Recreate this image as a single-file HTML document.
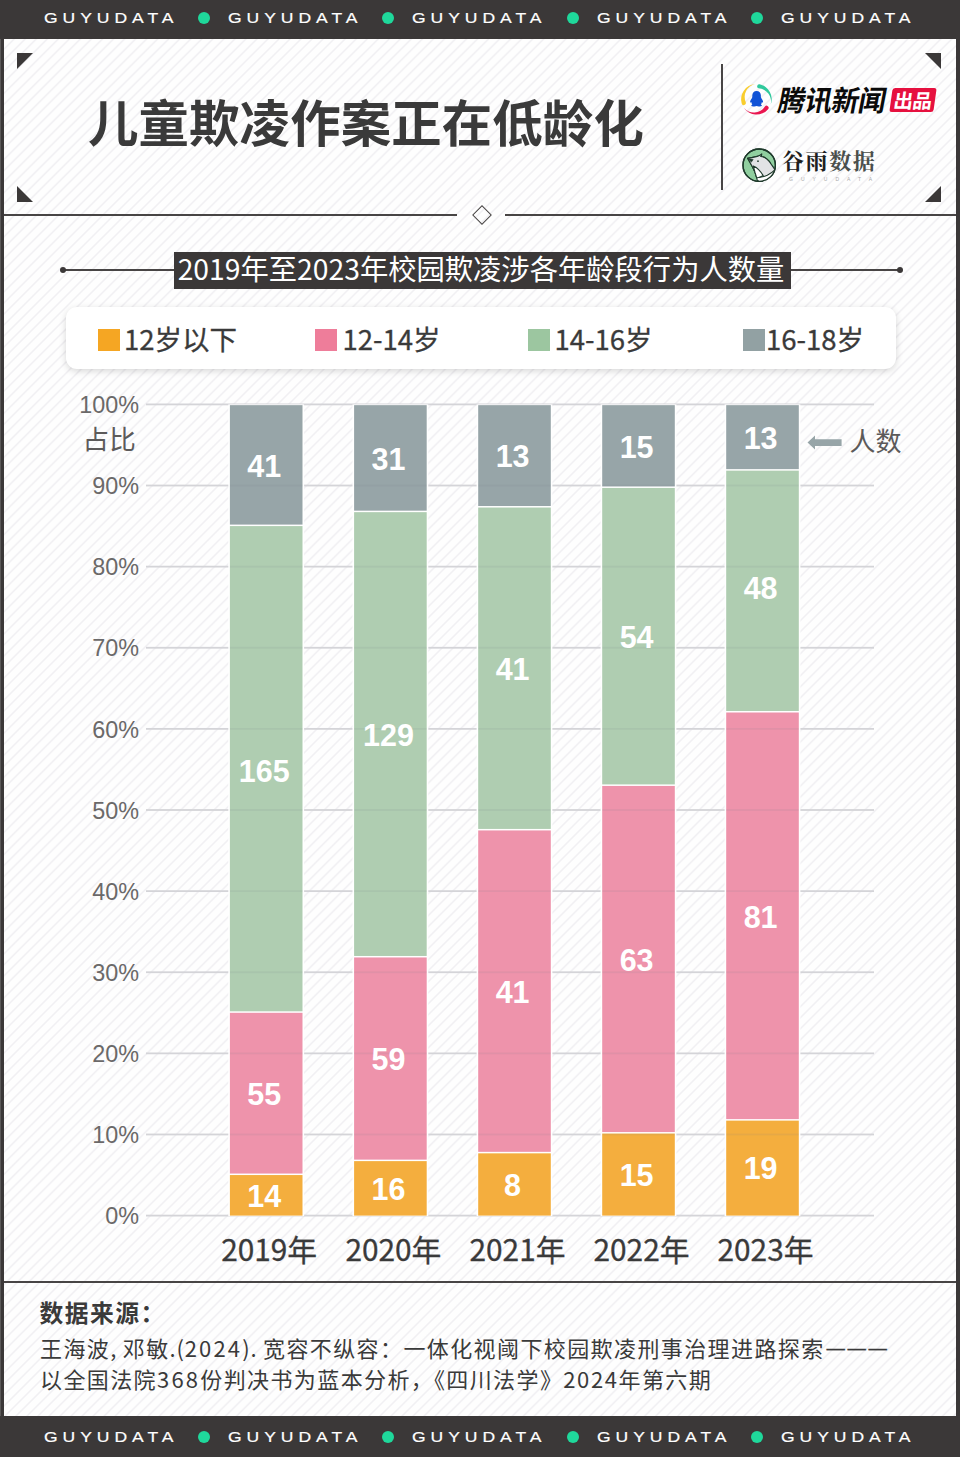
<!DOCTYPE html>
<html lang="zh-CN">
<head>
<meta charset="utf-8">
<title>儿童欺凌作案正在低龄化</title>
<style>
html,body{margin:0;padding:0;background:#fff;}
body{width:960px;height:1457px;overflow:hidden;}
#page{position:relative;width:960px;height:1457px;overflow:hidden;
  font-family:"Liberation Sans","Noto Sans CJK SC",sans-serif;color:#3a3a3a;
  background-color:#fefefe;
  background-image:repeating-linear-gradient(135deg,#fefefe 0,#fefefe 5.0px,#f1f0f3 6.2px,#f1f0f3 6.6px,#fefefe 7.8px);}
#page *{box-sizing:border-box;}
.abs{position:absolute;}
.band{position:absolute;left:0;width:960px;background:#3b3838;}
.gy{position:absolute;color:#fff;font-family:"Liberation Sans",sans-serif;font-size:15.5px;
  letter-spacing:4.4px;-webkit-text-stroke:0.2px #fff;transform:scaleX(1.13);transform-origin:0 50%;line-height:20px;white-space:nowrap;font-weight:400;}
.dot{position:absolute;width:12px;height:12px;border-radius:50%;background:#1fd89b;}
.hline{position:absolute;height:2px;background:#484545;}
.tri{position:absolute;width:0;height:0;}
.cjk{font-family:"Liberation Sans","Noto Sans CJK SC",sans-serif;}
.title{position:absolute;left:88px;top:85px;font-size:50.4px;letter-spacing:0.15px;line-height:72px;font-weight:700;
  color:#3a3a3a;white-space:nowrap;font-family:"Noto Sans CJK SC","Liberation Sans",sans-serif;}
.sub{position:absolute;left:174px;top:252px;width:617px;height:36.5px;background:#3b3838;color:#fff;
  font-family:"Noto Sans CJK SC","Liberation Sans",sans-serif;font-size:28.3px;line-height:31.5px;
  text-align:center;padding-right:3px;white-space:nowrap;font-weight:400;}
.legend{position:absolute;left:66px;top:307px;width:830px;height:62px;background:#fff;border-radius:11px;
  box-shadow:0 2px 7px rgba(0,0,0,0.16);}
.lg-sq{position:absolute;top:329px;width:22px;height:22px;}
.lg-tx{position:absolute;top:318px;font-weight:400;-webkit-text-stroke:0.3px #3a3a3a;font-size:27.5px;line-height:40px;white-space:nowrap;color:#3a3a3a;
  font-family:"Noto Sans CJK SC","Liberation Sans",sans-serif;}
.ylab{position:absolute;width:100px;text-align:right;font-family:"Liberation Sans",sans-serif;font-size:23.4px;
  line-height:26px;color:#6b6969;white-space:nowrap;}
.grid{position:absolute;left:146px;width:728px;height:1.8px;background:#d4d4d8;}
.gov{position:absolute;width:73px;height:1.8px;background:rgba(120,125,135,0.16);}
.seg{position:absolute;border:solid #fff;border-width:1.2px 1.8px;}
.num{position:absolute;width:73px;text-align:center;color:#fff;font-family:"Liberation Sans",sans-serif;
  font-weight:700;font-size:30.5px;line-height:30px;white-space:nowrap;}
.xlab{position:absolute;width:140px;text-align:center;font-weight:400;-webkit-text-stroke:0.3px #3a3a3a;font-size:29.8px;line-height:40px;white-space:nowrap;color:#3a3a3a;
  font-family:"Noto Sans CJK SC","Liberation Sans",sans-serif;}
.src-h{position:absolute;left:39.5px;top:1294px;text-spacing-trim:space-all;font-size:23.8px;letter-spacing:1.45px;line-height:36px;font-weight:700;color:#3a3a3a;white-space:nowrap;
  font-family:"Noto Sans CJK SC","Liberation Sans",sans-serif;}
.src{position:absolute;left:40px;font-size:22px;letter-spacing:1.4px;line-height:32px;color:#3a3a3a;white-space:nowrap;text-spacing-trim:space-all;
  font-family:"Noto Sans CJK SC","Liberation Sans",sans-serif;}
.src .d{letter-spacing:2.2px;}
.src .d2{letter-spacing:1.6px;}
.src .p{letter-spacing:0.75px;}
.src .dash{font-family:"Liberation Sans",sans-serif;font-size:18.4px;letter-spacing:2.6px;position:relative;top:-2.5px;margin-left:1.8px;-webkit-text-stroke:0.3px #3a3a3a;}
</style>
</head>
<body>
<div id="page">
<div class="band" style="top:0;height:39px;"></div>
<div class="band" style="top:1416px;height:41px;"></div>
<div class="abs" style="left:0;top:0;width:4px;height:1457px;background:#3b3838;"></div>
<div class="abs" style="left:955.5px;top:0;width:4.5px;height:1457px;background:#3b3838;"></div>
<div class="abs" style="left:0;top:39px;width:1px;height:1377px;background:#5b5959;"></div>
<div class="gy" style="left:44.0px;top:8px;">GUYUDATA</div>
<div class="gy" style="left:228.2px;top:8px;">GUYUDATA</div>
<div class="gy" style="left:412.4px;top:8px;">GUYUDATA</div>
<div class="gy" style="left:596.6px;top:8px;">GUYUDATA</div>
<div class="gy" style="left:780.8px;top:8px;">GUYUDATA</div>
<div class="dot" style="left:198.2px;top:12px;"></div>
<div class="dot" style="left:382.4px;top:12px;"></div>
<div class="dot" style="left:566.6px;top:12px;"></div>
<div class="dot" style="left:750.8px;top:12px;"></div>
<div class="gy" style="left:44.0px;top:1427px;">GUYUDATA</div>
<div class="gy" style="left:228.2px;top:1427px;">GUYUDATA</div>
<div class="gy" style="left:412.4px;top:1427px;">GUYUDATA</div>
<div class="gy" style="left:596.6px;top:1427px;">GUYUDATA</div>
<div class="gy" style="left:780.8px;top:1427px;">GUYUDATA</div>
<div class="dot" style="left:198.2px;top:1431px;"></div>
<div class="dot" style="left:382.4px;top:1431px;"></div>
<div class="dot" style="left:566.6px;top:1431px;"></div>
<div class="dot" style="left:750.8px;top:1431px;"></div>
<div class="tri" style="left:16.5px;top:52.5px;border-top:16.5px solid #3b3838;border-right:16.5px solid transparent;"></div>
<div class="tri" style="left:925px;top:52.5px;border-top:16.5px solid #3b3838;border-left:16.5px solid transparent;"></div>
<div class="tri" style="left:16.5px;top:185.5px;border-bottom:16.5px solid #3b3838;border-right:16.5px solid transparent;"></div>
<div class="tri" style="left:925px;top:185.5px;border-bottom:16.5px solid #3b3838;border-left:16.5px solid transparent;"></div>
<div class="title">儿童欺凌作案正在低龄化</div>
<div class="abs" style="left:720.5px;top:64px;width:2px;height:126px;background:#484545;"></div>
<svg class="abs" style="left:736px;top:80px;" width="40" height="40" viewBox="736 80 40 40">
  <path d="M741.69 103.52 A15.3 15.3 0 0 1 755.07 84.06 A13.15 13.15 0 0 0 745.83 102.33 A2.15 2.15 0 0 1 741.69 103.52 Z" fill="#f9cd2c"/>
  <path d="M759.58 84.33 A15.3 15.3 0 0 1 770.68 104.78 A13.25 13.25 0 0 0 758.73 88.34 A2.05 2.05 0 0 1 759.58 84.33 Z" fill="#30c99c"/>
  <path d="M768.12 109.13 A15.3 15.3 0 0 1 743.72 107.86 A13.20 13.20 0 0 0 764.90 106.43 A2.10 2.10 0 0 1 768.12 109.13 Z" fill="#ea1650"/>
  <path d="M756.6 91 c-2.6 0 -4.3 2 -4.3 4.6 c0 1 0.1 1.6 -0.3 2.4 c-0.9 1.4 -1.9 2.8 -1.9 4 c0 0.7 0.5 0.7 1.2 0 c0 1 0.4 1.8 1 2.4 c-0.6 0.3 -1 0.7 -1 1.1 c0 0.8 1.6 1 3 1 c1 0 1.8 -0.2 2.3 -0.5 c0.5 0.3 1.3 0.5 2.3 0.5 c1.4 0 3 -0.2 3 -1 c0 -0.4 -0.4 -0.8 -1 -1.1 c0.6 -0.6 1 -1.4 1 -2.4 c0.7 0.7 1.2 0.7 1.2 0 c0 -1.2 -1 -2.6 -1.9 -4 c-0.4 -0.8 -0.3 -1.4 -0.3 -2.4 c0 -2.6 -1.7 -4.6 -4.3 -4.6 z" fill="#1153d6"/>
</svg>
<div class="abs" style="left:775px;top:79px;font-family:'Noto Sans CJK SC','Liberation Sans',sans-serif;font-weight:700;font-size:28.6px;line-height:40px;color:#0a0a0a;white-space:nowrap;transform:skewX(-11deg) scaleX(0.955);transform-origin:0 100%;letter-spacing:-0.5px;">腾讯新闻</div>
<div class="abs" style="left:890.5px;top:88px;width:44px;height:24px;background:#e6113f;border-radius:2.5px;transform:skewX(-8deg);"></div>
<div class="abs" style="left:890.5px;top:88px;width:44px;height:24px;font-family:'Noto Sans CJK SC','Liberation Sans',sans-serif;font-weight:700;font-size:19.5px;line-height:23px;color:#fff;text-align:center;white-space:nowrap;letter-spacing:-0.5px;transform:skewX(-8deg);">出品</div>
<svg class="abs" style="left:738px;top:144px;" width="44" height="44" viewBox="738 144 44 44">
  <defs><clipPath id="gc"><circle cx="759.2" cy="165.2" r="16.2"/></clipPath></defs>
  <circle cx="759.2" cy="165.2" r="16.2" fill="#90cf9f" stroke="#1f3a2c" stroke-width="1.3"/>
  <g clip-path="url(#gc)" stroke="#1f3a2c" stroke-width="1.1" stroke-linejoin="round" stroke-linecap="round">
    <path d="M747.6 158.2 C751 157.8 754.5 157.2 757.3 156.4 L760.7 156.5 C764.5 156.8 768.5 160 771 164 C772.8 166.6 774.3 168.6 775.3 170 L778 176 L766 186 L757.3 180.3 C756.6 177 755.8 174.5 755 172.4 C753.8 169.5 752.4 166.8 751.7 165.5 Z" fill="#ffffff"/>
    <path d="M747.6 158.2 C751 157.8 754.5 157.2 757.3 156.4 C759.3 155.8 760.8 155 761.8 153.9 C761.8 155 761.4 155.9 760.7 156.5 C764.5 156.8 768.5 160 771 164 C772.8 166.6 774.3 168.6 774.9 169.9 C772.8 172 770.3 173.7 767.3 175.2 C764.6 176.4 761.6 177.1 758.6 177.5 L756.6 177.7 C756.2 175.9 755.6 174.1 755 172.4 C753.8 169.5 752.4 166.8 751.7 165.5 Z" fill="#e2e3e5"/>
    <path d="M753.3 166 C755.3 166.8 757.2 168.1 758.6 169.7 C760.5 171.6 762 173.6 763.2 175.6 C761.7 176.4 760.2 177.1 758.6 177.5 L756.6 177.7 C756.2 175.9 755.6 174.1 755 172.4 C754.4 170.2 753.9 168.3 753.3 166 Z" fill="#ffffff"/>
    <path d="M747.6 158.2 L753.2 159.5 L751.4 162 Z" fill="#1f3a2c" stroke-width="0.6"/>
    <circle cx="758" cy="161.2" r="0.85" fill="#1f3a2c" stroke="none"/>
  </g>
  <circle cx="759.2" cy="165.2" r="16.2" fill="none" stroke="#1f3a2c" stroke-width="1.3"/>
</svg>
<div class="abs" style="left:782px;top:144px;font-family:'Noto Serif CJK SC','Liberation Serif',serif;font-weight:700;font-size:22px;line-height:32px;letter-spacing:1.6px;white-space:nowrap;color:#1f1f1f;">谷雨<span style="color:#4a4f4c;">数据</span></div>
<div class="abs" style="left:788.5px;top:176px;width:200px;font-family:'Liberation Sans',sans-serif;font-size:10px;line-height:12px;letter-spacing:16.0px;color:#a8a8a8;white-space:nowrap;transform:scale(0.5);transform-origin:0 0;">GUYUDATA</div>
<div class="hline" style="left:4px;top:214px;width:453px;"></div>
<div class="hline" style="left:505px;top:214px;width:451px;"></div>
<div class="abs" style="left:474.6px;top:208px;width:14px;height:14px;border:1.9px solid #484545;transform:rotate(45deg);"></div>
<div class="abs" style="left:63px;top:269.4px;width:837px;height:1.3px;background:#484545;"></div>
<div class="abs" style="left:60px;top:267px;width:6px;height:6px;border-radius:50%;background:#3b3838;"></div>
<div class="abs" style="left:897px;top:267px;width:6px;height:6px;border-radius:50%;background:#3b3838;"></div>
<div class="sub">2019年至2023年校园欺凌涉各年龄段行为人数量</div>
<div class="legend"></div>
<div class="lg-sq" style="left:98px;background:#f5a623;"></div><div class="lg-tx" style="left:124px;">12岁以下</div>
<div class="lg-sq" style="left:314.5px;background:#ee7d9a;"></div><div class="lg-tx" style="left:342.5px;">12-14岁</div>
<div class="lg-sq" style="left:527.5px;background:#9cc6a0;"></div><div class="lg-tx" style="left:554.5px;">14-16岁</div>
<div class="lg-sq" style="left:742.5px;background:#92a1a3;"></div><div class="lg-tx" style="left:766px;">16-18岁</div>
<div class="ylab" style="left:39px;top:392.0px;">100%</div>
<div class="ylab" style="left:39px;top:473.1px;">90%</div>
<div class="ylab" style="left:39px;top:554.2px;">80%</div>
<div class="ylab" style="left:39px;top:635.4px;">70%</div>
<div class="ylab" style="left:39px;top:716.5px;">60%</div>
<div class="ylab" style="left:39px;top:797.6px;">50%</div>
<div class="ylab" style="left:39px;top:878.7px;">40%</div>
<div class="ylab" style="left:39px;top:959.8px;">30%</div>
<div class="ylab" style="left:39px;top:1041.0px;">20%</div>
<div class="ylab" style="left:39px;top:1122.1px;">10%</div>
<div class="ylab" style="left:39px;top:1203.2px;">0%</div>
<div class="abs" style="left:82.6px;top:420px;font-size:26.6px;line-height:36px;color:#5c5a5a;white-space:nowrap;font-family:'Noto Sans CJK SC',sans-serif;">占比</div>
<svg class="abs" style="left:0;top:380px;" width="960" height="860" viewBox="0 380 960 860">
<rect x="146" y="403.50" width="728" height="1.8" fill="#d4d4d8"/>
<rect x="146" y="484.62" width="728" height="1.8" fill="#d4d4d8"/>
<rect x="146" y="565.74" width="728" height="1.8" fill="#d4d4d8"/>
<rect x="146" y="646.86" width="728" height="1.8" fill="#d4d4d8"/>
<rect x="146" y="727.98" width="728" height="1.8" fill="#d4d4d8"/>
<rect x="146" y="809.10" width="728" height="1.8" fill="#d4d4d8"/>
<rect x="146" y="890.22" width="728" height="1.8" fill="#d4d4d8"/>
<rect x="146" y="971.34" width="728" height="1.8" fill="#d4d4d8"/>
<rect x="146" y="1052.46" width="728" height="1.8" fill="#d4d4d8"/>
<rect x="146" y="1133.58" width="728" height="1.8" fill="#d4d4d8"/>
<rect x="146" y="1214.70" width="728" height="1.8" fill="#d4d4d8"/>
<rect x="228.30" y="404.40" width="75.80" height="811.80" fill="#ffffff"/>
<rect x="229.90" y="1175.05" width="72.60" height="40.55" fill="#f4ae3e"/>
<rect x="229.90" y="1012.81" width="72.60" height="160.74" fill="#ee93ab"/>
<rect x="229.90" y="526.09" width="72.60" height="485.22" fill="#afcdb1"/>
<rect x="229.90" y="405.15" width="72.60" height="119.44" fill="#97a5a8"/>
<rect x="229.90" y="1133.58" width="72.60" height="1.8" fill="#787d87" fill-opacity="0.11"/>
<rect x="229.90" y="1052.46" width="72.60" height="1.8" fill="#787d87" fill-opacity="0.11"/>
<rect x="229.90" y="971.34" width="72.60" height="1.8" fill="#787d87" fill-opacity="0.11"/>
<rect x="229.90" y="890.22" width="72.60" height="1.8" fill="#787d87" fill-opacity="0.11"/>
<rect x="229.90" y="809.10" width="72.60" height="1.8" fill="#787d87" fill-opacity="0.11"/>
<rect x="229.90" y="727.98" width="72.60" height="1.8" fill="#787d87" fill-opacity="0.11"/>
<rect x="229.90" y="646.86" width="72.60" height="1.8" fill="#787d87" fill-opacity="0.11"/>
<rect x="229.90" y="565.74" width="72.60" height="1.8" fill="#787d87" fill-opacity="0.11"/>
<rect x="229.90" y="484.62" width="72.60" height="1.8" fill="#787d87" fill-opacity="0.11"/>
<rect x="352.50" y="404.40" width="75.80" height="811.80" fill="#ffffff"/>
<rect x="354.10" y="1161.12" width="72.60" height="54.48" fill="#f4ae3e"/>
<rect x="354.10" y="957.46" width="72.60" height="202.16" fill="#ee93ab"/>
<rect x="354.10" y="512.16" width="72.60" height="443.80" fill="#afcdb1"/>
<rect x="354.10" y="405.15" width="72.60" height="105.51" fill="#97a5a8"/>
<rect x="354.10" y="1133.58" width="72.60" height="1.8" fill="#787d87" fill-opacity="0.11"/>
<rect x="354.10" y="1052.46" width="72.60" height="1.8" fill="#787d87" fill-opacity="0.11"/>
<rect x="354.10" y="971.34" width="72.60" height="1.8" fill="#787d87" fill-opacity="0.11"/>
<rect x="354.10" y="890.22" width="72.60" height="1.8" fill="#787d87" fill-opacity="0.11"/>
<rect x="354.10" y="809.10" width="72.60" height="1.8" fill="#787d87" fill-opacity="0.11"/>
<rect x="354.10" y="727.98" width="72.60" height="1.8" fill="#787d87" fill-opacity="0.11"/>
<rect x="354.10" y="646.86" width="72.60" height="1.8" fill="#787d87" fill-opacity="0.11"/>
<rect x="354.10" y="565.74" width="72.60" height="1.8" fill="#787d87" fill-opacity="0.11"/>
<rect x="354.10" y="484.62" width="72.60" height="1.8" fill="#787d87" fill-opacity="0.11"/>
<rect x="476.60" y="404.40" width="75.80" height="811.80" fill="#ffffff"/>
<rect x="478.20" y="1153.34" width="72.60" height="62.26" fill="#f4ae3e"/>
<rect x="478.20" y="830.44" width="72.60" height="321.40" fill="#ee93ab"/>
<rect x="478.20" y="507.53" width="72.60" height="321.40" fill="#afcdb1"/>
<rect x="478.20" y="405.15" width="72.60" height="100.88" fill="#97a5a8"/>
<rect x="478.20" y="1133.58" width="72.60" height="1.8" fill="#787d87" fill-opacity="0.11"/>
<rect x="478.20" y="1052.46" width="72.60" height="1.8" fill="#787d87" fill-opacity="0.11"/>
<rect x="478.20" y="971.34" width="72.60" height="1.8" fill="#787d87" fill-opacity="0.11"/>
<rect x="478.20" y="890.22" width="72.60" height="1.8" fill="#787d87" fill-opacity="0.11"/>
<rect x="478.20" y="809.10" width="72.60" height="1.8" fill="#787d87" fill-opacity="0.11"/>
<rect x="478.20" y="727.98" width="72.60" height="1.8" fill="#787d87" fill-opacity="0.11"/>
<rect x="478.20" y="646.86" width="72.60" height="1.8" fill="#787d87" fill-opacity="0.11"/>
<rect x="478.20" y="565.74" width="72.60" height="1.8" fill="#787d87" fill-opacity="0.11"/>
<rect x="478.20" y="484.62" width="72.60" height="1.8" fill="#787d87" fill-opacity="0.11"/>
<rect x="600.60" y="404.40" width="75.80" height="811.80" fill="#ffffff"/>
<rect x="602.20" y="1133.57" width="72.60" height="82.03" fill="#f4ae3e"/>
<rect x="602.20" y="785.92" width="72.60" height="346.16" fill="#ee93ab"/>
<rect x="602.20" y="487.93" width="72.60" height="296.49" fill="#afcdb1"/>
<rect x="602.20" y="405.15" width="72.60" height="81.28" fill="#97a5a8"/>
<rect x="602.20" y="1133.58" width="72.60" height="1.8" fill="#787d87" fill-opacity="0.11"/>
<rect x="602.20" y="1052.46" width="72.60" height="1.8" fill="#787d87" fill-opacity="0.11"/>
<rect x="602.20" y="971.34" width="72.60" height="1.8" fill="#787d87" fill-opacity="0.11"/>
<rect x="602.20" y="890.22" width="72.60" height="1.8" fill="#787d87" fill-opacity="0.11"/>
<rect x="602.20" y="809.10" width="72.60" height="1.8" fill="#787d87" fill-opacity="0.11"/>
<rect x="602.20" y="727.98" width="72.60" height="1.8" fill="#787d87" fill-opacity="0.11"/>
<rect x="602.20" y="646.86" width="72.60" height="1.8" fill="#787d87" fill-opacity="0.11"/>
<rect x="602.20" y="565.74" width="72.60" height="1.8" fill="#787d87" fill-opacity="0.11"/>
<rect x="602.20" y="484.62" width="72.60" height="1.8" fill="#787d87" fill-opacity="0.11"/>
<rect x="724.60" y="404.40" width="75.80" height="811.80" fill="#ffffff"/>
<rect x="726.20" y="1120.62" width="72.60" height="94.98" fill="#f4ae3e"/>
<rect x="726.20" y="712.50" width="72.60" height="406.62" fill="#ee93ab"/>
<rect x="726.20" y="470.65" width="72.60" height="240.35" fill="#afcdb1"/>
<rect x="726.20" y="405.15" width="72.60" height="64.00" fill="#97a5a8"/>
<rect x="726.20" y="1133.58" width="72.60" height="1.8" fill="#787d87" fill-opacity="0.11"/>
<rect x="726.20" y="1052.46" width="72.60" height="1.8" fill="#787d87" fill-opacity="0.11"/>
<rect x="726.20" y="971.34" width="72.60" height="1.8" fill="#787d87" fill-opacity="0.11"/>
<rect x="726.20" y="890.22" width="72.60" height="1.8" fill="#787d87" fill-opacity="0.11"/>
<rect x="726.20" y="809.10" width="72.60" height="1.8" fill="#787d87" fill-opacity="0.11"/>
<rect x="726.20" y="727.98" width="72.60" height="1.8" fill="#787d87" fill-opacity="0.11"/>
<rect x="726.20" y="646.86" width="72.60" height="1.8" fill="#787d87" fill-opacity="0.11"/>
<rect x="726.20" y="565.74" width="72.60" height="1.8" fill="#787d87" fill-opacity="0.11"/>
<rect x="726.20" y="484.62" width="72.60" height="1.8" fill="#787d87" fill-opacity="0.11"/>
</svg>
<div class="num" style="left:227.8px;top:1180.7px;">14</div>
<div class="num" style="left:227.8px;top:1078.9px;">55</div>
<div class="num" style="left:227.8px;top:755.6px;">165</div>
<div class="num" style="left:227.8px;top:450.6px;">41</div>
<div class="xlab" style="left:199.2px;top:1228px;">2019年</div>
<div class="num" style="left:352.0px;top:1173.7px;">16</div>
<div class="num" style="left:352.0px;top:1044.2px;">59</div>
<div class="num" style="left:352.0px;top:719.8px;">129</div>
<div class="num" style="left:352.0px;top:443.6px;">31</div>
<div class="xlab" style="left:323.4px;top:1228px;">2020年</div>
<div class="num" style="left:476.1px;top:1169.8px;">8</div>
<div class="num" style="left:476.1px;top:976.8px;">41</div>
<div class="num" style="left:476.1px;top:653.9px;">41</div>
<div class="num" style="left:476.1px;top:441.3px;">13</div>
<div class="xlab" style="left:447.5px;top:1228px;">2021年</div>
<div class="num" style="left:600.1px;top:1159.9px;">15</div>
<div class="num" style="left:600.1px;top:944.7px;">63</div>
<div class="num" style="left:600.1px;top:621.9px;">54</div>
<div class="num" style="left:600.1px;top:431.5px;">15</div>
<div class="xlab" style="left:571.5px;top:1228px;">2022年</div>
<div class="num" style="left:724.1px;top:1153.4px;">19</div>
<div class="num" style="left:724.1px;top:901.5px;">81</div>
<div class="num" style="left:724.1px;top:573.0px;">48</div>
<div class="num" style="left:724.1px;top:422.9px;">13</div>
<div class="xlab" style="left:695.5px;top:1228px;">2023年</div>
<svg class="abs" style="left:804px;top:432px;" width="42" height="22" viewBox="804 432 42 22">
  <path d="M807.5 442.6 L815 435.6 L815 439.3 L841.6 439.3 L841.6 446 L815 446 L815 449.6 Z" fill="#97a5a8"/>
</svg>
<div class="abs" style="left:849.5px;top:421.5px;font-size:26px;line-height:36px;color:#5c5a5a;white-space:nowrap;font-family:'Noto Sans CJK SC',sans-serif;">人数</div>
<div class="hline" style="left:4px;top:1280.5px;width:952px;"></div>
<div class="src-h">数据来源：</div>
<div class="src" style="top:1330.5px;">王海波<span class="p">, </span>邓敏<span class="p">.(</span><span class="d">2024</span><span class="p">). </span>宽容不纵容：一体化视阈下校园欺凌刑事治理进路探索<span class="dash">———</span></div>
<div class="src" style="top:1361.5px;">以全国法院<span class="d">368</span>份判决书为蓝本分析<span style="margin-right:-11.4px;">，</span>《四川法学》<span class="d2">2024</span>年第六期</div>
</div>
</body>
</html>
